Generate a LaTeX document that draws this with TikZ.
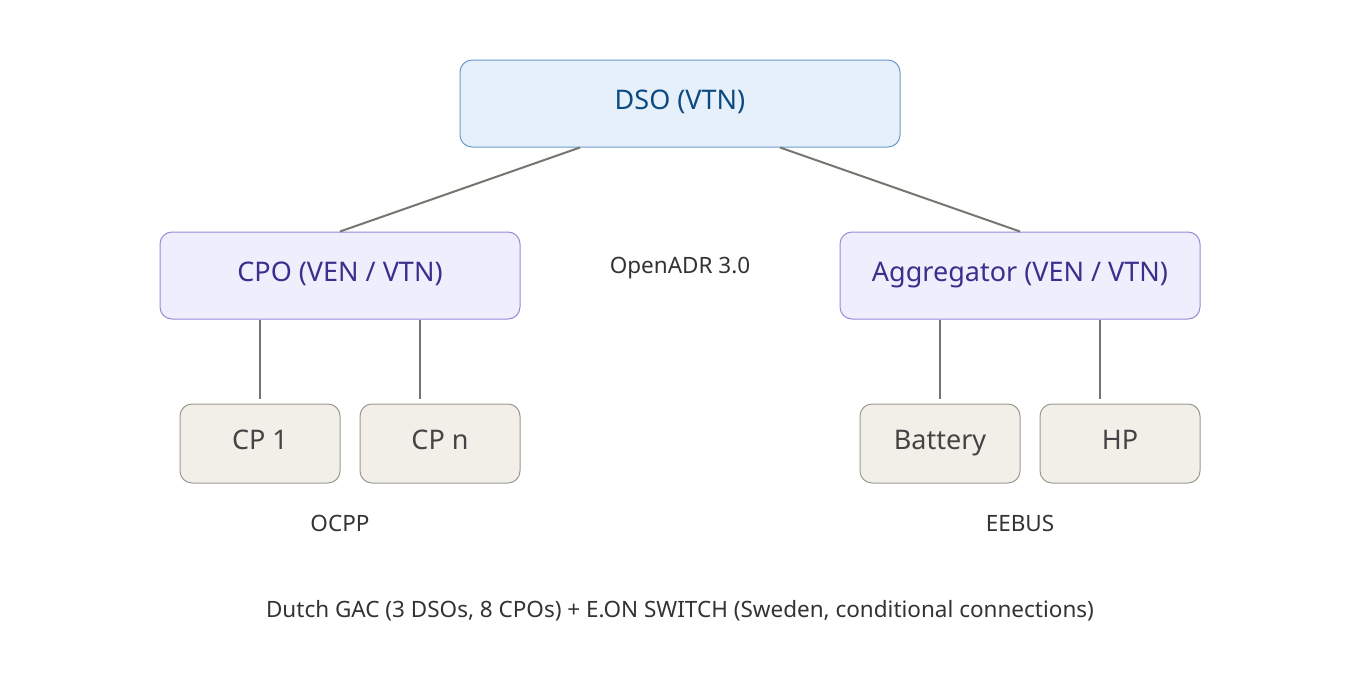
\documentclass[tikz,border=0pt]{standalone}
\usepackage{fontspec}
\setmainfont{Noto Sans}
\newcommand{\up}[1]{\raisebox{7pt}{#1}}
\begin{document}
\begin{tikzpicture}[x=1pt,y=-1pt,
 box/.style={draw,rounded corners=12pt,line width=1pt,inner sep=0pt,font=\fontsize{27}{32}\selectfont},
 top/.style={box,fill=dsof,draw=dsob,text=dsot,minimum width=440pt,minimum height=87pt},
 mid/.style={box,fill=midf,draw=midb,text=midt,minimum width=360pt,minimum height=87pt},
 leaf/.style={box,fill=leaff,draw=leafb,text=leaft,minimum width=160pt,minimum height=79pt},
 lbl/.style={font=\fontsize{22.5}{27}\selectfont,text=lblt},
 conn/.style={draw=linec,line width=2pt}]
\definecolor{dsof}{HTML}{E6F0FA}\definecolor{dsob}{HTML}{6A9BCB}\definecolor{dsot}{HTML}{0D4A80}
\definecolor{midf}{HTML}{EEEEFC}\definecolor{midb}{HTML}{9A8ADA}\definecolor{midt}{HTML}{3B2E8C}
\definecolor{leaff}{HTML}{F1EFE8}\definecolor{leafb}{HTML}{9B9A90}\definecolor{leaft}{HTML}{444444}
\definecolor{lblt}{HTML}{333333}\definecolor{linec}{HTML}{77766E}
\useasboundingbox[fill=white] (0,0) rectangle (1360,680);
\node[top] (dso) at (680,103.5) {\up{DSO (VTN)}};
\node[mid] (cpo) at (340,275.5) {\up{CPO (VEN / VTN)}};
\node[mid] (agg) at (1020,275.5) {\up{Aggregator (VEN / VTN)}};
\node[leaf] (cp1) at (260,443.5) {\up{CP 1}};
\node[leaf] (cpn) at (440,443.5) {\up{CP n}};
\node[leaf] (bat) at (940,443.5) {\up{Battery}};
\node[leaf] (hp) at (1120,443.5) {\up{HP}};
\node[lbl] (oadr) at (680,268) {OpenADR 3.0};
\node[lbl] (ocpp) at (340,523) {OCPP};
\node[lbl] (eebus) at (1020,523) {EEBUS};
\node[lbl] (foot) at (680,611) {Dutch GAC (3 DSOs, 8 CPOs) + E.ON SWITCH (Sweden, conditional connections)};
\coordinate (c1) at ([yshift=5pt]cp1.north);
\coordinate (c2) at ([yshift=5pt]cpn.north -| 420,0);
\coordinate (c3) at ([yshift=5pt]bat.north);
\coordinate (c4) at ([yshift=5pt]hp.north -| 1100,0);
\draw[conn] (dso.south -| 580,0) -- (cpo.north);
\draw[conn] (dso.south -| 780,0) -- (agg.north);
\draw[conn] (cpo.south -| c1) -- (c1);
\draw[conn] (cpo.south -| c2) -- (c2);
\draw[conn] (agg.south -| c3) -- (c3);
\draw[conn] (agg.south -| c4) -- (c4);
\end{tikzpicture}
\end{document}
